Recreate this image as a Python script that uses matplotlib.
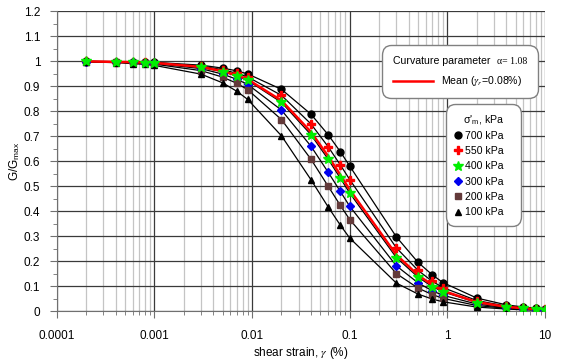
import matplotlib
matplotlib.use('Agg')
import matplotlib.pyplot as plt
from matplotlib.lines import Line2D
from matplotlib.offsetbox import AnchoredOffsetbox, DrawingArea, HPacker, TextArea, VPacker
from matplotlib.ticker import FixedLocator, FuncFormatter, LogLocator, NullFormatter

plt.rcParams['font.family'] = ['Liberation Sans', 'DejaVu Sans']
plt.rcParams['mathtext.fontset'] = 'stix'

# shear strain (%) at which each curve was evaluated
strain = [0.0002, 0.0004, 0.0006, 0.0008, 0.001, 0.003, 0.005, 0.007, 0.009,
          0.02, 0.04, 0.06, 0.08, 0.1, 0.3, 0.5, 0.7, 0.9, 2, 4, 6, 8, 10]

# G/Gmax for each mean effective stress
g_700 = [0.999, 0.998, 0.997, 0.996, 0.995, 0.984, 0.972, 0.961, 0.949, 0.887, 0.788, 0.706,
         0.638, 0.580, 0.297, 0.195, 0.145, 0.114, 0.052, 0.025, 0.016, 0.012, 0.010]
g_550 = [0.999, 0.998, 0.996, 0.995, 0.994, 0.980, 0.966, 0.951, 0.937, 0.863, 0.749, 0.658,
         0.585, 0.526, 0.253, 0.163, 0.119, 0.094, 0.042, 0.020, 0.013, 0.010, 0.008]
g_400 = [0.999, 0.997, 0.996, 0.994, 0.992, 0.975, 0.958, 0.940, 0.923, 0.835, 0.706, 0.608,
         0.532, 0.472, 0.214, 0.136, 0.098, 0.077, 0.034, 0.016, 0.011, 0.008, 0.006]
g_300 = [0.998, 0.996, 0.995, 0.993, 0.991, 0.970, 0.948, 0.927, 0.907, 0.804, 0.660, 0.556,
         0.479, 0.419, 0.181, 0.113, 0.081, 0.063, 0.028, 0.013, 0.009, 0.006, 0.005]
g_200 = [0.998, 0.996, 0.993, 0.991, 0.988, 0.962, 0.936, 0.911, 0.886, 0.766, 0.608, 0.500,
         0.423, 0.366, 0.150, 0.092, 0.066, 0.051, 0.022, 0.011, 0.007, 0.005, 0.004]
g_100 = [0.997, 0.994, 0.990, 0.987, 0.983, 0.948, 0.913, 0.879, 0.847, 0.701, 0.526, 0.417,
         0.344, 0.292, 0.112, 0.068, 0.048, 0.037, 0.016, 0.008, 0.005, 0.004, 0.003]
g_mean = [0.999, 0.997, 0.996, 0.994, 0.993, 0.977, 0.960, 0.943, 0.927, 0.842, 0.717, 0.620,
          0.545, 0.485, 0.225, 0.144, 0.104, 0.081, 0.036, 0.017, 0.011, 0.008, 0.007]

labels = ['700 kPa', '550 kPa', '400 kPa', '300 kPa', '200 kPa', '100 kPa']
series = [g_700, g_550, g_400, g_300, g_200, g_100]
markers = ['o', 'P', '*', 'D', 's', '^']
colors = ['black', 'red', '#00ee00', '#0000ee', '#633a3a', 'black']
sizes = [5, 5.5, 7, 4.2, 5, 4.8]

fig = plt.figure(figsize=(5.63, 3.6), dpi=100)
ax = fig.add_axes([0.101, 0.136, 0.867, 0.833])

# black connecting lines
for g in series:
    ax.plot(strain, g, color='black', lw=0.9, zorder=3)
ax.plot(strain, g_mean, color='red', lw=1.8, zorder=4)

# markers, 400 kPa drawn on top
order = [0, 1, 3, 4, 5, 2]
for i in order:
    ax.plot(strain, series[i], ls='none', marker=markers[i], ms=sizes[i],
            color=colors[i], mec=colors[i], zorder=5 + (i == 2))

ax.set_xscale('log')
ax.set_xlim(1e-4, 10)
ax.set_ylim(0, 1.2)

ax.xaxis.set_major_locator(LogLocator(base=10, numticks=10))
ax.xaxis.set_minor_locator(LogLocator(base=10, subs=range(2, 10), numticks=20))
ax.xaxis.set_major_formatter(FuncFormatter(lambda v, p: '%g' % v))
ax.xaxis.set_minor_formatter(NullFormatter())
ax.yaxis.set_major_locator(FixedLocator([i / 10 for i in range(13)]))
ax.yaxis.set_minor_locator(FixedLocator([0.05 + i / 10 for i in range(12)]))
ax.yaxis.set_major_formatter(FuncFormatter(lambda v, p: '%g' % round(v, 1)))

ax.grid(True, which='major', axis='both', color='#3a3a3a', lw=0.9)
ax.grid(True, which='minor', axis='x', color='#c4c4c4', lw=0.9)
ax.set_axisbelow(True)
for s in ['top', 'right']:
    ax.spines[s].set_visible(False)
for s in ['left', 'bottom']:
    ax.spines[s].set_color('#707070')
ax.tick_params(which='both', direction='out', colors='#707070', labelcolor='black',
               labelsize=8.5)
ax.tick_params(which='major', length=5)
ax.tick_params(which='minor', length=3)
ax.tick_params(axis='x', pad=9)
ax.tick_params(axis='y', pad=7)

ax.set_xlabel('shear strain, $\\gamma$ (%)', fontsize=8.5, labelpad=2)
ax.set_ylabel('G/G$_\\mathregular{max}$', fontsize=8.5, labelpad=1)

# box for curvature parameter and mean curve
row1 = HPacker(children=[TextArea('Curvature parameter', textprops=dict(size=7.6)),
                         TextArea('\u03b1= 1.08', textprops=dict(size=7, family='Liberation Serif'))],
               sep=5, align='baseline', pad=0)
line_box = DrawingArea(29, 6)
line_box.add_artist(Line2D([0, 29], [3, 3], color='red', lw=1.8))
row2 = HPacker(children=[line_box, TextArea('Mean ($\\gamma_r$=0.08%)', textprops=dict(size=7.6))],
               sep=6, align='center', pad=0)
box1 = AnchoredOffsetbox(loc='upper left', child=VPacker(children=[row1, row2], sep=6,
                                                         align='left', pad=0),
                         bbox_to_anchor=(0.666, 0.887), bbox_transform=ax.transAxes,
                         frameon=True, borderpad=0, pad=1.0, prop=dict(size=7.6))
box1.patch.set_boxstyle('round,pad=0,rounding_size=0.9')
box1.patch.set_edgecolor('#808080')
box1.set_zorder(10)
ax.add_artist(box1)

# legend for the stress levels
handles = [Line2D([], [], ls='none', marker=markers[i], ms=sizes[i], color=colors[i])
           for i in range(6)]
leg2 = ax.legend(handles, labels, loc='upper left', bbox_to_anchor=(0.797, 0.0, 0.154, 0.69),
                 mode='expand', borderaxespad=0, fontsize=7.6,
                 title="σ'$_\\mathregular{m}$, kPa", title_fontsize=7.6,
                 fancybox=True, framealpha=1, edgecolor='#808080', handlelength=0.6,
                 handletextpad=0.45, labelspacing=0.5, borderpad=0.8)
leg2.get_frame().set_boxstyle('round,pad=0,rounding_size=0.9')
leg2.set_zorder(10)

fig.savefig('out.png', dpi=100)
